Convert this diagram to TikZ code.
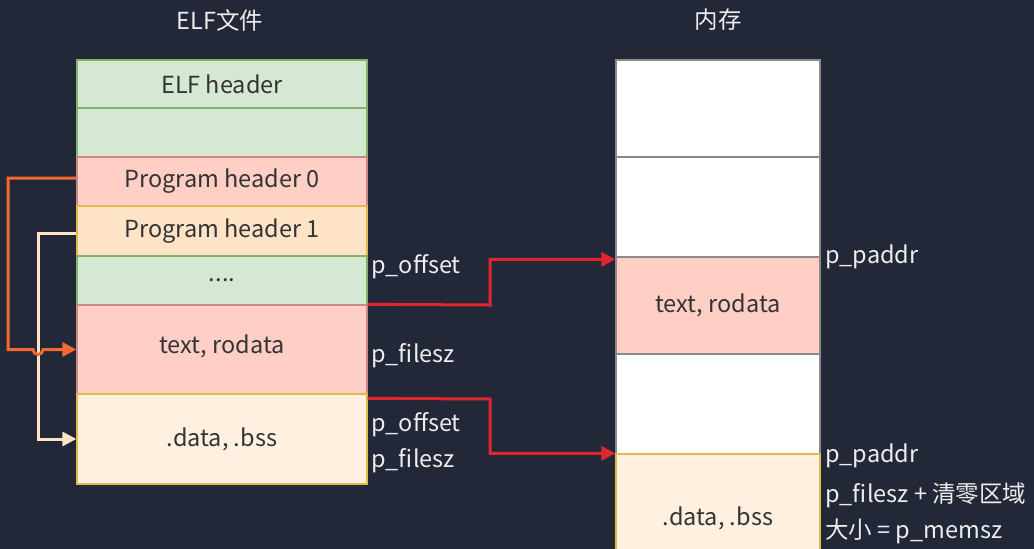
\documentclass[tikz,border=0pt]{standalone}
\usepackage{fontspec}
\setmainfont{Noto Sans CJK SC}
\usetikzlibrary{arrows.meta,calc}
\definecolor{bg}{HTML}{222838}
\definecolor{gfill}{HTML}{D5E8D4}
\definecolor{gline}{HTML}{82B366}
\definecolor{rfill}{HTML}{FFCEC5}
\definecolor{rline}{HTML}{B85450}
\definecolor{ofill}{HTML}{FFE3C6}
\definecolor{oline}{HTML}{D79B00}
\definecolor{cfill}{HTML}{FFF0DF}
\definecolor{txt}{HTML}{333333}
\definecolor{lbl}{HTML}{EDEDED}
\definecolor{orarrow}{HTML}{F26B2E}
\definecolor{pcarrow}{HTML}{FFE3C6}
\definecolor{redarrow}{HTML}{E0272D}
\definecolor{mline}{HTML}{8A8A8A}
\tikzset{
  seg/.style={draw, line width=1.3pt, minimum width=290pt, inner sep=0pt, text=txt, font=\fontsize{23.5}{28}\selectfont},
  mseg/.style={draw=mline, line width=1.3pt, minimum width=204pt, inner sep=0pt, text=txt, font=\fontsize{23.5}{28}\selectfont},
  lab/.style={anchor=west, inner sep=0pt, text=lbl, font=\fontsize{23.5}{28}\selectfont},
  ttl/.style={inner sep=0pt, text=lbl, font=\fontsize{23.5}{28}\selectfont},
  conn/.style={line width=3pt, -{Triangle[length=14pt,width=14pt]}}
}
\begin{document}
\begin{tikzpicture}[x=1pt,y=-1pt]
\fill[bg] (0,0) rectangle (1034,549);
\useasboundingbox (0,0) rectangle (1034,549);
\begin{scope}
\clip (0,0) rectangle (1034,549);
% left column
\node[seg, fill=gfill, draw=gline, minimum height=48pt] (eh) at (222,84) {ELF header};
\node[seg, fill=gfill, draw=gline, minimum height=49pt] (e2) at (222,132.5) {};
\node[seg, fill=rfill, draw=rline!70, minimum height=49pt] (ph0) at (222,181.5) {Program header 0};
\node[seg, fill=ofill, draw=oline!70, minimum height=50pt] (ph1) at (222,231) {Program header 1};
\node[seg, fill=gfill, draw=gline, minimum height=49pt] (dots) at (222,280.5) {....};
\node[seg, fill=rfill, draw=rline!70, minimum height=89pt, text depth=0pt] (tr) at (222,349.5) {\raisebox{10pt}{text, rodata}};
\node[seg, fill=cfill, draw=oline!70, minimum height=90pt] (db) at (222,439) {.data, .bss};
% right column
\node[mseg, fill=white, minimum height=97pt] (m1) at (718,108.5) {};
\node[mseg, fill=white, minimum height=100pt] (m2) at (718,207) {};
\node[mseg, fill=rfill, minimum height=97pt] (m3) at (718,305.5) {text, rodata};
\node[mseg, fill=white, minimum height=100pt] (m4) at (718,404) {};
\node[mseg, fill=cfill, draw=oline!70, minimum height=128pt] (m5) at (718,518) {.data, .bss};
\end{scope}
% titles
\node[ttl] (t1) at (220,20) {ELF文件};
\node[ttl] (t2) at (718,20) {内存};
% labels
\node[lab] (l1) at (371,267) {p\_offset};
\node[lab] (l2) at (371,356) {p\_filesz};
\node[lab] (l3) at (371,425) {p\_offset};
\node[lab] (l4) at (371,461) {p\_filesz};
\node[lab] (r1) at (825,257) {p\_paddr};
\node[lab] (r2) at (825,456) {p\_paddr};
\node[lab] (r3) at (825,495) {p\_filesz + 清零区域};
\node[lab] (r4) at (825,531) {大小 = p\_memsz};
% left connectors
\coordinate (ph1s) at ($(ph1.west)+(0,2)$);
\draw[conn, pcarrow] (ph1s) -- (38,233) |- (db.west);
\coordinate (ph0s) at ($(ph0.west)+(0,-3.5)$);
\draw[conn, orarrow] (ph0s) -- (8,178) -- (8,349.5) -- (33,349.5) arc[start angle=180, end angle=0, radius=5] -- (tr.west);
% right connectors
\coordinate (a1) at ($(m3.north west)+(0,3)$);
\draw[conn, redarrow] (tr.north east) -- (490,305) |- (a1);
\coordinate (a2s) at ($(db.north east)+(0,5)$);
\draw[conn, redarrow] (a2s) -- (490,399) |- (m5.north west);
\end{tikzpicture}
\end{document}
